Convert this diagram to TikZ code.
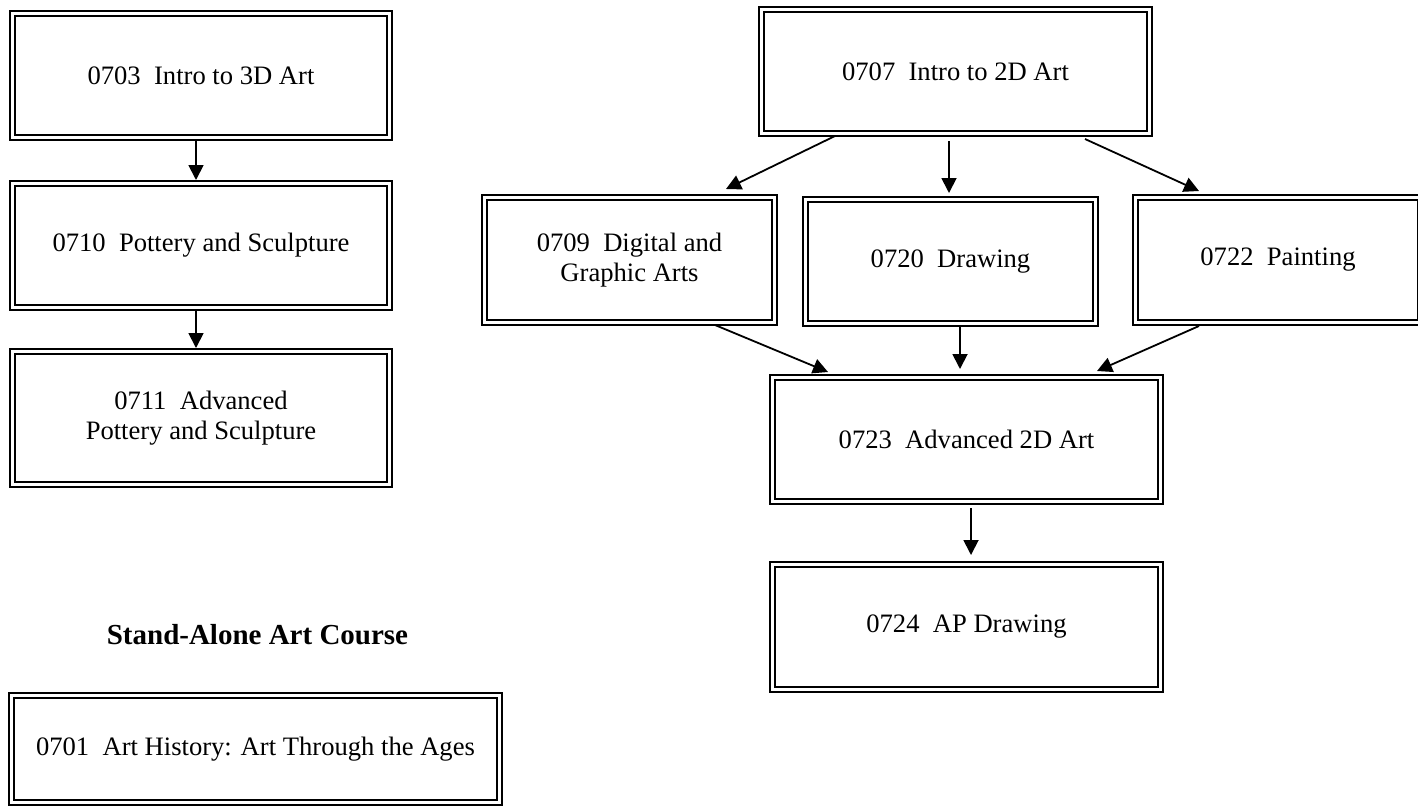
\documentclass[tikz,border=0pt]{standalone}
\usepackage{fontspec}
\setmainfont{Liberation Serif}
\usetikzlibrary{arrows.meta}
\tikzset{
  cbox/.style={draw, line width=1.4pt, inner sep=0pt, outer sep=0pt, align=center,
    font=\fontsize{26.6}{30.5}\selectfont,
    path picture={\draw[line width=2.6pt]
      ([shift={(5pt,5pt)}]path picture bounding box.south west) rectangle
      ([shift={(-5pt,-5pt)}]path picture bounding box.north east);}},
  arr/.style={line width=1.8pt, -{Triangle[length=15pt,width=15pt]}},
  heading/.style={font=\fontsize{29}{33}\selectfont\bfseries}
}
\begin{document}
\begin{tikzpicture}[x=1pt,y=-1pt]
\useasboundingbox (0,0) rectangle (1418,807);
% left column
\node[cbox, minimum width=382pt, minimum height=129pt] (b0703) at (201,75.5) {0703\ \ Intro to 3D Art};
\node[cbox, minimum width=382pt, minimum height=129pt] (b0710) at (201,245.5) {0710\ \ Pottery and Sculpture};
\node[cbox, minimum width=382pt, minimum height=138pt] (b0711) at (201,418) {0711\ \ Advanced\\Pottery and Sculpture};
\node[heading] (head) at (257.5,635) {Stand-Alone Art Course};
\node[cbox, minimum width=493pt, minimum height=112pt] (b0701) at (255.5,749) {0701\ \ Art History: Art Through the Ages};
% right part
\node[cbox, minimum width=393pt, minimum height=129pt] (b0707) at (955.5,71.5) {0707\ \ Intro to 2D Art};
\node[cbox, minimum width=295pt, minimum height=130pt] (b0709) at (629.5,260) {0709\ \ Digital and\\Graphic Arts};
\node[cbox, minimum width=295pt, minimum height=129pt] (b0720) at (950.5,261.5) {0720\ \ Drawing};
\node[cbox, minimum width=290pt, minimum height=130pt] (b0722) at (1278,260) {0722\ \ Painting};
\node[cbox, minimum width=393pt, minimum height=129pt] (b0723) at (966.5,439.5) {0723\ \ Advanced 2D Art};
\node[cbox, minimum width=393pt, minimum height=130pt] (b0724) at (966.5,627) {0724\ \ AP Drawing};
% connectors
\draw[arr] ([xshift=-5pt]b0703.south) -- ([xshift=-5pt,yshift=1pt]b0710.north);
\draw[arr] ([xshift=-5pt]b0710.south) -- ([xshift=-5pt,yshift=1pt]b0711.north);
\draw[arr] ([xshift=-120.5pt]b0707.south) -- ([xshift=96.5pt,yshift=6pt]b0709.north);
\draw[arr] ([xshift=-6.5pt,yshift=-5pt]b0707.south) -- ([xshift=-1.5pt,yshift=4pt]b0720.north);
\draw[arr] ([xshift=129.5pt,yshift=-3pt]b0707.south) -- ([xshift=-79pt,yshift=4pt]b0722.north);
\draw[arr] ([xshift=85.5pt]b0709.south) -- ([xshift=-138.5pt,yshift=3pt]b0723.north);
\draw[arr] ([xshift=9.5pt]b0720.south) -- ([xshift=-6.5pt,yshift=6pt]b0723.north);
\draw[arr] ([xshift=-79pt,yshift=-1pt]b0722.south) -- ([xshift=130.5pt,yshift=4pt]b0723.north);
\draw[arr] ([xshift=4.5pt,yshift=-4pt]b0723.south) -- ([xshift=4.5pt,yshift=7pt]b0724.north);
\end{tikzpicture}
\end{document}
